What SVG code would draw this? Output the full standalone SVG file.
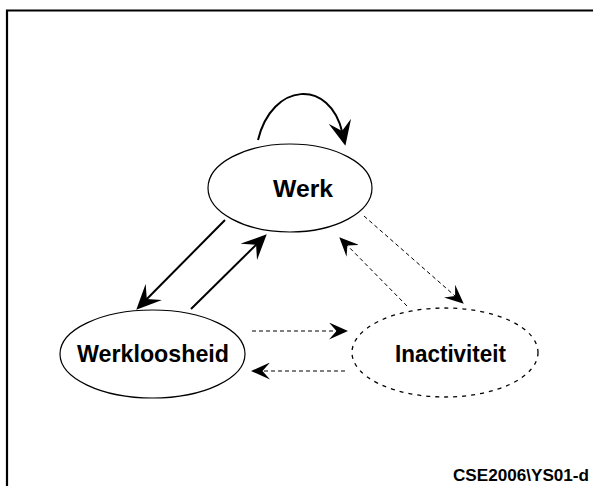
<svg xmlns="http://www.w3.org/2000/svg" width="593" height="486" viewBox="0 0 593 486">
<style>
.node{fill:#fff;stroke:#000;stroke-width:1.2}
.dashnode{fill:#fff;stroke:#000;stroke-width:1.3;stroke-dasharray:4 5}
.lbl{font-family:"Liberation Sans",Arial,sans-serif;font-weight:bold;font-size:24px;fill:#000}
.foot{font-family:"Liberation Sans",Arial,sans-serif;font-weight:bold;font-size:16px;fill:#000}
.solid{fill:none;stroke:#000;stroke-width:2}
.dash{fill:none;stroke:#000;stroke-width:1;stroke-dasharray:4 3}
</style>
<defs>
<marker id="big" markerUnits="userSpaceOnUse" viewBox="0 0 25 23" markerWidth="25" markerHeight="23" refX="12" refY="11.5" orient="auto">
<path d="M0,0 L25,11.5 L0,23 L10,11.5 Z" fill="#000"/>
</marker>
<marker id="small" markerUnits="userSpaceOnUse" viewBox="0 0 19 17" markerWidth="19" markerHeight="17" refX="10" refY="8.5" orient="auto">
<path d="M0,0 L19,8.5 L0,17 L7.5,8.5 Z" fill="#000"/>
</marker>
</defs>
<rect width="593" height="486" fill="#fff"/>
<path d="M7,486 V10.5 H593" fill="none" stroke="#000" stroke-width="2.2"/>
<g id="connectors">
<path class="solid" d="M258,140 C272,82 330,78 342.5,133" marker-end="url(#big)"/>
<line class="solid" x1="225" y1="220" x2="145.4" y2="300.5" marker-end="url(#big)"/>
<line class="solid" x1="191" y1="309" x2="257.5" y2="243.4" marker-end="url(#big)"/>
<line class="dash" x1="364" y1="216" x2="457" y2="297.7" marker-end="url(#small)"/>
<line class="dash" x1="407" y1="306" x2="345.6" y2="243.7" marker-end="url(#small)"/>
<line class="dash" x1="252" y1="331" x2="339" y2="331" marker-end="url(#small)"/>
<line class="dash" x1="345" y1="371" x2="260" y2="371" marker-end="url(#small)"/>
</g>
<g id="werk">
<ellipse class="node" cx="290" cy="188" rx="82" ry="44"/>
<text class="lbl" x="273" y="197" textLength="60" lengthAdjust="spacingAndGlyphs">Werk</text>
</g>
<g id="werkloosheid">
<ellipse class="node" cx="152.5" cy="354" rx="92.5" ry="44"/>
<text class="lbl" x="77" y="362" textLength="152" lengthAdjust="spacingAndGlyphs">Werkloosheid</text>
</g>
<g id="inactiviteit">
<ellipse class="dashnode" cx="445" cy="352.5" rx="93" ry="44.5"/>
<text class="lbl" x="395" y="362" textLength="111" lengthAdjust="spacingAndGlyphs">Inactiviteit</text>
</g>
<text class="foot" x="453" y="481" textLength="136" lengthAdjust="spacingAndGlyphs">CSE2006\YS01-d</text>
</svg>
